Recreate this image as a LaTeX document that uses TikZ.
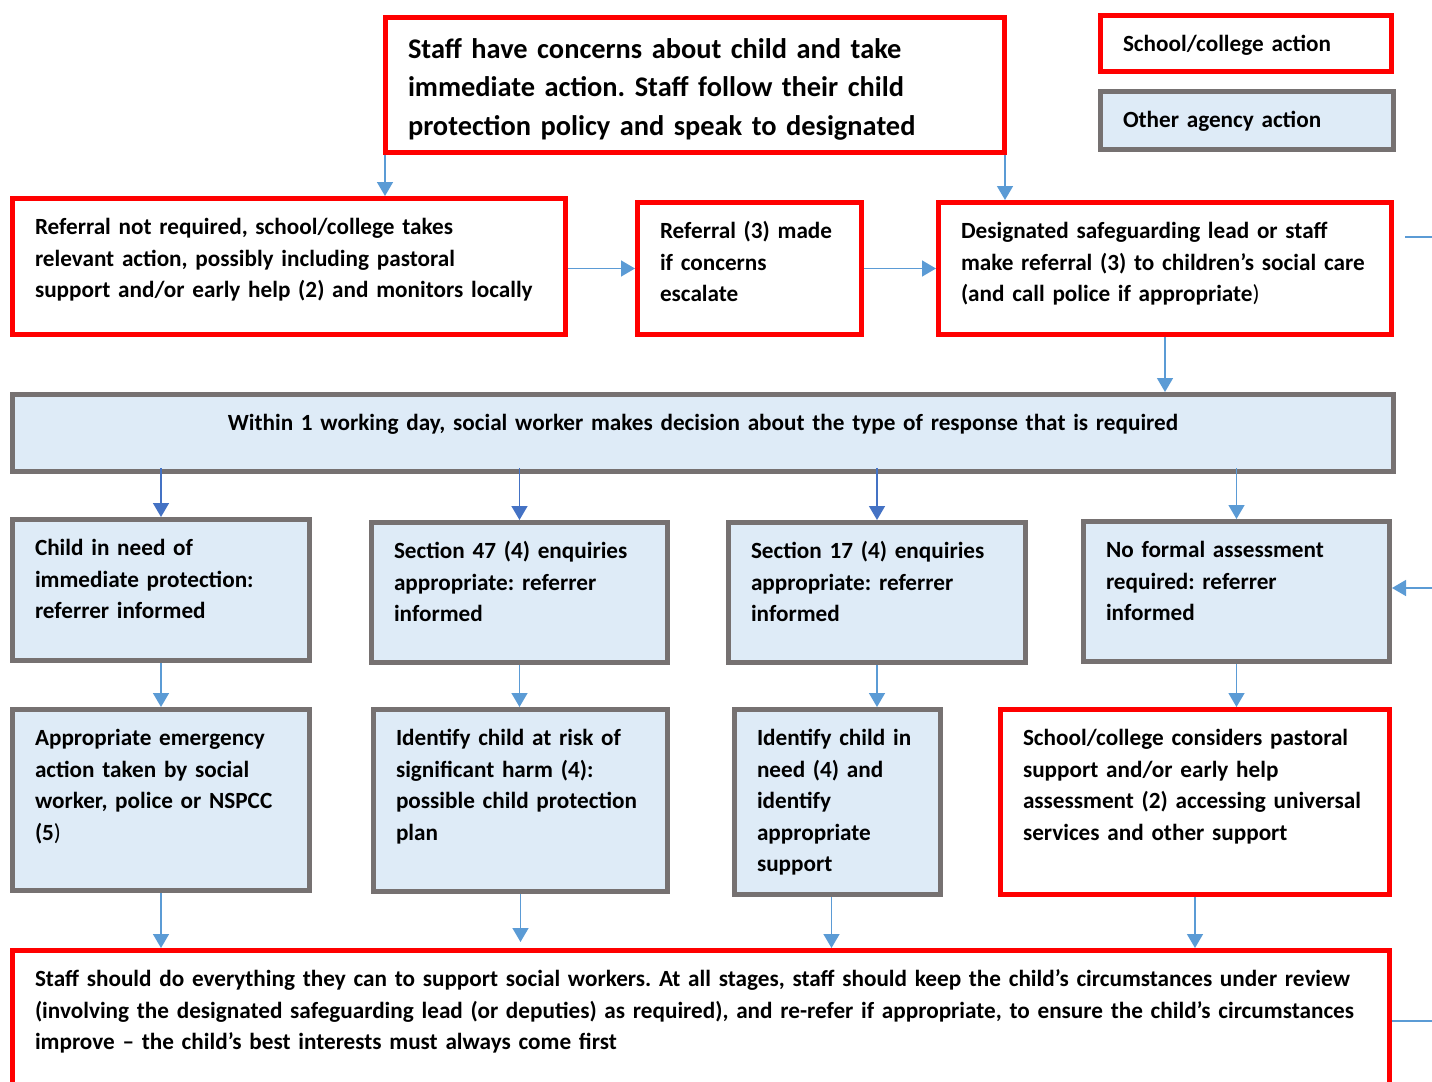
\documentclass[tikz,border=0pt]{standalone}
\usepackage{fontspec}
\setmainfont{Carlito}[WordSpace=0.85]
\frenchspacing
\usetikzlibrary{arrows.meta}
\definecolor{schoolred}{HTML}{FF0000}
\definecolor{agencygrey}{HTML}{767171}
\definecolor{agencyfill}{HTML}{DEEBF7}
\definecolor{flowblue}{HTML}{5B9BD5}
\definecolor{flowdark}{HTML}{4472C4}
\begin{document}
\begin{tikzpicture}[x=0.5pt, y=-0.5pt,
    box/.style={draw, line width=2.5pt, anchor=north west, align=left, inner xsep=11.25pt, inner ysep=3pt, text height=15.15pt, font=\bfseries\fontsize{11.6}{15.75}\selectfont},
    school/.style={box, draw=schoolred, fill=white},
    agency/.style={box, draw=agencygrey, fill=agencyfill},
    flow/.style={draw=flowblue, line width=0.75pt, -{Triangle[width=8pt, length=7pt]}},
    flowdark/.style={flow, draw=flowdark}]
  \useasboundingbox (0,0) rectangle (1432,1082);
  \node[school, minimum width=309.5pt, text width=287pt, text height=17.35pt, text depth=44.15pt, font=\bfseries\fontsize{14.2}{19.25}\selectfont] (concern) at (383,15) {Staff have concerns about child and take\\ immediate action. Staff follow their child\\ protection policy and speak to designated};
  \node[school, minimum width=145.5pt, text width=123pt, text depth=6.85pt] (keyschool) at (1098,13) {School/college action};
  \node[agency, minimum width=146.5pt, text width=124pt, text depth=7.85pt] (keyagency) at (1098,89) {Other agency action};
  \node[school, minimum width=276.5pt, text width=254pt, text depth=46.85pt] (notreq) at (10,196) {Referral not required, school/college takes\\ relevant action, possibly including pastoral\\ support and/or early help (2) and monitors locally};
  \node[school, minimum width=112pt, text width=89.5pt, text depth=44.85pt] (escalate) at (635,200) {Referral (3) made\\ if concerns\\ escalate};
  \node[school, minimum width=226.5pt, text width=204pt, text depth=44.85pt] (dsl) at (936,200) {Designated safeguarding lead or staff\\ make referral (3) to children’s social care\\ (and call police if appropriate{\mdseries )}};
  \node[agency, minimum width=690.5pt, text width=668pt, text depth=17.35pt, align=center] (decision) at (10,392) {Within 1 working day, social worker makes decision about the type of response that is required};
  \node[agency, minimum width=148.5pt, text width=126pt, text depth=49.35pt] (protect) at (10,517) {Child in need of\\ immediate protection:\\ referrer informed};
  \node[agency, minimum width=148pt, text width=125.5pt, text depth=48.85pt] (sfortyseven) at (369,520) {Section 47 (4) enquiries\\ appropriate: referrer\\ informed};
  \node[agency, minimum width=148.5pt, text width=126pt, text depth=48.85pt] (sseventeen) at (726,520) {Section 17 (4) enquiries\\ appropriate: referrer\\ informed};
  \node[agency, minimum width=153pt, text width=130.5pt, text depth=48.85pt] (noformal) at (1081,519) {No formal assessment\\ required: referrer\\ informed};
  \node[agency, minimum width=148.5pt, text width=126pt, text depth=69.35pt] (emergency) at (10,707) {Appropriate emergency\\ action taken by social\\ worker, police or NSPCC\\ (5{\mdseries )}};
  \node[agency, minimum width=147pt, text width=124.5pt, text depth=69.85pt] (harm) at (371,707) {Identify child at risk of\\ significant harm (4):\\ possible child protection\\ plan};
  \node[agency, minimum width=103pt, text width=80.5pt, text depth=71.35pt] (need) at (732,707) {Identify child in\\ need (4) and\\ identify\\ appropriate\\ support};
  \node[school, minimum width=194.5pt, text width=172pt, text depth=71.35pt] (pastoral) at (998,707) {School/college considers pastoral\\ support and/or early help\\ assessment (2) accessing universal\\ services and other support};
  \node[school, minimum width=688.5pt, text width=666pt, text depth=56.35pt] (review) at (10,948) {Staff should do everything they can to support social workers. At all stages, staff should keep the child’s circumstances under review\\ (involving the designated safeguarding lead (or deputies) as required), and re-refer if appropriate, to ensure the child’s circumstances\\ improve – the child’s best interests must always come first};
  \coordinate (outtop) at (1432,237);
  \coordinate (outmid) at (1432,588);
  \coordinate (outbot) at (1432,1021);
  \draw[flow] ([xshift=1pt]concern.south west) -- ([xshift=1pt]concern.south west |- notreq.north);
  \draw[flow] ([xshift=-1pt]concern.south east) -- ([xshift=-1pt]concern.south east |- dsl.north);
  \draw[flow] (notreq.east |- escalate.west) -- (escalate.west);
  \draw[flow] (escalate.east) -- (dsl.west);
  \draw[flow] (dsl.south) -- (dsl.south |- decision.north);
  \draw[draw=flowblue, line width=0.75pt] (outtop) -- ++(-27,0);
  \draw[flow] (outmid) -- (noformal.east |- outmid);
  \draw[draw=flowblue, line width=0.75pt] (outbot) -- (review.east |- outbot);
  \draw[flowdark] ([yshift=3pt]decision.south -| protect.north) -- (protect.north);
  \draw[flowdark] ([yshift=3pt]decision.south -| sfortyseven.north) -- (sfortyseven.north);
  \draw[flowdark] ([yshift=3pt]decision.south -| sseventeen.north) -- (sseventeen.north);
  \draw[flow] ([yshift=3pt]decision.south -| noformal.north) -- (noformal.north);
  \draw[flow] (protect.south) -- (emergency.north);
  \draw[flow] (sfortyseven.south) -- (sfortyseven.south |- harm.north);
  \draw[flow] (sseventeen.south) -- (sseventeen.south |- need.north);
  \draw[flow] (noformal.south) -- (noformal.south |- pastoral.north);
  \draw[flow] (emergency.south) -- (emergency.south |- review.north);
  \draw[flow] (harm.south) -- ([yshift=3pt]harm.south |- review.north);
  \draw[flow] ([xshift=-3pt]need.south) -- ([xshift=-3pt]need.south |- review.north);
  \draw[flow] (pastoral.south) -- (pastoral.south |- review.north);
\end{tikzpicture}
\end{document}
